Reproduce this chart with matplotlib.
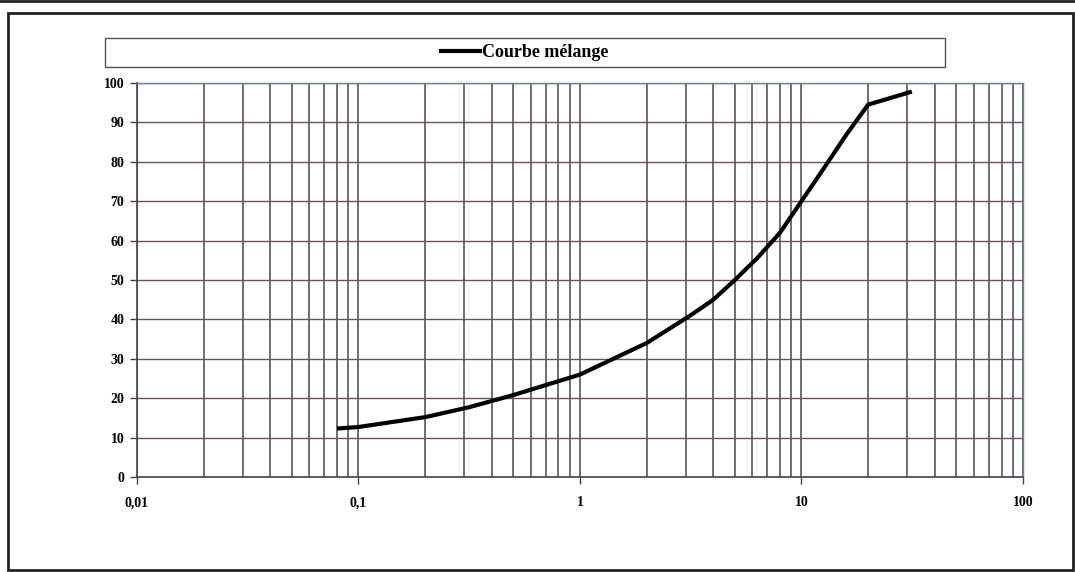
import numpy as np
import matplotlib.pyplot as plt
from matplotlib.patches import Rectangle
from matplotlib.lines import Line2D
from matplotlib.ticker import FixedLocator, LogLocator, NullFormatter

# tamis (mm) et passants (%)
tamis = [0.08, 0.1, 0.2, 0.315, 0.5, 1, 2, 3.15, 4, 5, 6.3, 8, 10, 12.5, 16, 20, 31.5]
passants = [12.3, 12.7, 15.2, 17.7, 20.8, 26, 34, 41, 45, 50, 55.5, 62, 70, 78, 87, 94.5, 97.8]

xticks = [0.01, 0.1, 1, 10, 100]
xlabels = ['0,01', '0,1', '1', '10', '100']
yticks = list(range(0, 101, 10))
serie = 'Courbe mélange'

plt.rcParams['font.family'] = ['Liberation Serif', 'DejaVu Serif']
plt.rcParams['font.weight'] = 'bold'

fig = plt.figure(figsize=(10.75, 5.72), dpi=100)
ax = fig.add_axes([0.1274, 0.166, 0.8242, 0.689])

ax.plot(tamis, passants, color='black', lw=3, solid_capstyle='butt', label=serie, zorder=5)

ax.set_xscale('log')
ax.set_xlim(0.01, 100)
ax.set_ylim(0, 100)

ax.xaxis.set_major_locator(FixedLocator(xticks))
ax.set_xticklabels(xlabels, fontsize=10, fontweight='bold')
ax.xaxis.set_minor_locator(LogLocator(base=10, subs=np.arange(2, 10)))
ax.xaxis.set_minor_formatter(NullFormatter())
ax.set_yticks(yticks)
ax.set_yticklabels([str(v) for v in yticks], fontsize=10, fontweight='bold')

ax.tick_params(axis='x', which='major', direction='out', length=5, width=1, color='#444444', pad=9)
ax.tick_params(axis='x', which='minor', length=0)
ax.tick_params(axis='y', direction='out', length=5, width=1, color='#444444', pad=4)

ax.grid(True, axis='x', which='both', color='#555555', lw=1.2)
ax.grid(True, axis='y', which='major', color='#6b5555', lw=1.0)
ax.set_axisbelow(True)

for side in ['top', 'right']:
    ax.spines[side].set_color('#7080a0')
    ax.spines[side].set_linewidth(1)
for side in ['left', 'bottom']:
    ax.spines[side].set_color('#444444')
    ax.spines[side].set_linewidth(1.2)

# cadre de la legende
fig.patches.append(Rectangle((0.0977, 0.883), 0.781, 0.051, transform=fig.transFigure,
                             fill=False, edgecolor='#555555', lw=1))
handle = Line2D([], [], color='black', lw=3)
fig.legend([handle], [serie], loc='center', bbox_to_anchor=(0.488, 0.9085),
           frameon=False, prop={'size': 13, 'weight': 'bold'},
           handlelength=2.2, handletextpad=0.1)

# cadre exterieur
fig.patches.append(Rectangle((8 / 1075, 2 / 572), 1065 / 1075, 557 / 572, transform=fig.transFigure,
                             fill=False, edgecolor='#222222', lw=2))
fig.lines.append(Line2D([0, 1], [0.998, 0.998], transform=fig.transFigure, color='#222222', lw=2))

fig.savefig('out.png', dpi=100)
